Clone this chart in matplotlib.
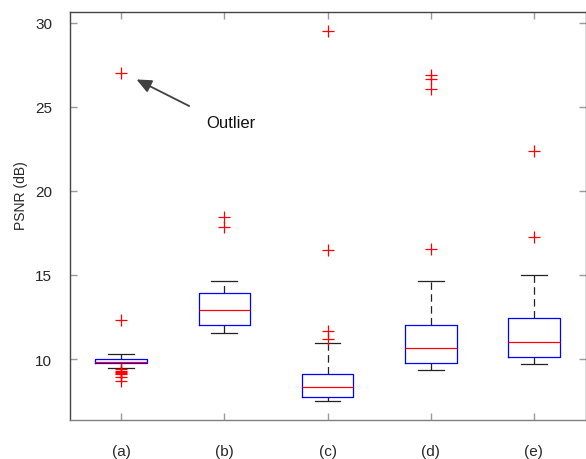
import matplotlib
matplotlib.use("Agg")
import matplotlib.pyplot as plt

plt.rcParams["font.family"] = ["Liberation Sans", "DejaVu Sans"]

labels = ["(a)", "(b)", "(c)", "(d)", "(e)"]
whislo = [9.44, 11.55, 7.48, 9.35, 9.68]
q1 = [9.78, 12.02, 7.74, 9.76, 10.10]
med = [9.82, 12.92, 8.33, 10.64, 11.03]
q3 = [10.00, 13.95, 9.11, 12.04, 12.42]
whishi = [10.32, 14.63, 10.95, 14.63, 14.98]
fliers = [
    [27.03, 12.35, 9.38, 9.30, 9.22, 9.15, 9.08, 8.93, 8.69],
    [18.43, 17.87],
    [29.52, 16.47, 11.67, 11.19],
    [26.90, 26.67, 26.09, 16.55],
    [22.36, 17.26],
]

stats = []
for i in range(len(labels)):
    stats.append({
        "label": labels[i],
        "whislo": whislo[i],
        "q1": q1[i],
        "med": med[i],
        "q3": q3[i],
        "whishi": whishi[i],
        "fliers": fliers[i],
    })

fig = plt.figure(figsize=(5.86, 4.6), dpi=100)
ax = fig.add_axes([69.5 / 586, 1 - 421 / 460, 516 / 586, 408 / 460])

ax.bxp(
    stats,
    widths=0.5,
    boxprops=dict(color="#0000ff", linewidth=0.9),
    medianprops=dict(color="#ff0000", linewidth=0.9),
    whiskerprops=dict(color="#222222", linewidth=0.9, linestyle=(0, (6, 3.5))),
    capprops=dict(color="#222222", linewidth=0.9),
    flierprops=dict(marker="+", markeredgecolor="#ff0000", markersize=9,
                    markeredgewidth=0.9, linestyle="none"),
    capwidths=0.25,
)

ax.set_xlim(0.5, 5.5)
ax.set_ylim(6.37, 30.65)
ax.set_yticks([10, 15, 20, 25, 30])

ax.tick_params(direction="in", length=5, width=1, color="#999999",
               labelsize=11, labelcolor="#262626", top=True, right=True)
ax.tick_params(axis="x", pad=17)
ax.tick_params(axis="y", pad=12.5)
for sp in ax.spines.values():
    sp.set_color("#444444")
    sp.set_linewidth(1)
ax.spines["bottom"].set_color("#808080")

fig.text(21.5 / 586, 1 - 195.5 / 460, "PSNR (dB)", rotation=90,
         ha="center", va="center", color="#262626", fontsize=10)

ax.annotate("", xy=(1.125, 26.71), xytext=(1.684, 24.98),
            arrowprops=dict(arrowstyle="-|>,head_length=0.9,head_width=0.4",
                            color="#404040", lw=1.3))
ax.text(1.823, 24.05, "Outlier", fontsize=12, color="#111111",
        va="center", ha="left")

fig.savefig("out.png", dpi=100)
